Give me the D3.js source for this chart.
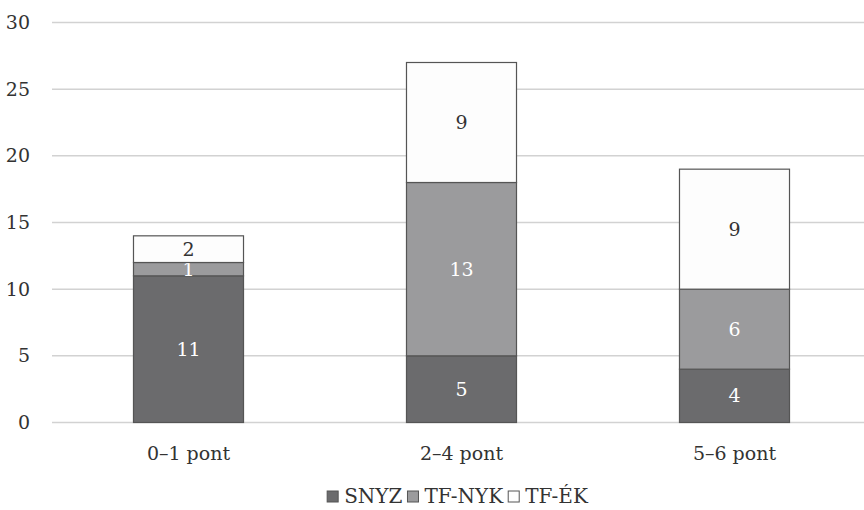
<!DOCTYPE html>
<html>
<head>
<meta charset="utf-8">
<script src="https://cdn.jsdelivr.net/npm/d3@7"></script>
<style>
  html, body { margin: 0; padding: 0; background: #fff; }
  svg { display: block; }
  svg text { font-family: "DejaVu Serif", "Liberation Serif", serif; }
</style>
</head>
<body>
<svg id="chart" width="864" height="510"></svg>
<script>
// Score groups and the three stacked series
const categories = ["0–1 pont", "2–4 pont", "5–6 pont"];
const seriesNames = ["SNYZ", "TF-NYK", "TF-ÉK"];
const snyz = [11, 5, 4];
const tfNyk = [1, 13, 6];
const tfEk = [2, 9, 9];
const yTicks = [0, 5, 10, 15, 20, 25, 30];

const colors = { "SNYZ": "#6b6b6d", "TF-NYK": "#9b9b9d", "TF-ÉK": "#fdfdfd" };
const labelColors = { "SNYZ": "#ffffff", "TF-NYK": "#ffffff", "TF-ÉK": "#333333" };

const rows = categories.map((c, i) => ({ cat: c, "SNYZ": snyz[i], "TF-NYK": tfNyk[i], "TF-ÉK": tfEk[i] }));
const stacked = d3.stack().keys(seriesNames)(rows);

const svg = d3.select("#chart");
const x = d3.scaleBand().domain(categories).range([52, 871]).paddingInner(0.597).paddingOuter(0.2985);
const y = d3.scaleLinear().domain([0, 30]).range([422.5, 22.5]);

// Horizontal gridlines
svg.append("g").selectAll("line").data(yTicks).join("line")
  .attr("x1", 52).attr("x2", 864)
  .attr("y1", d => y(d)).attr("y2", d => y(d))
  .attr("stroke", "#d2d2d2").attr("stroke-width", 1.5);

// Y axis tick labels
const yAxis = d3.axisLeft(y).tickValues(yTicks).tickSize(0).tickPadding(0);
const gy = svg.append("g").attr("transform", "translate(30,0)").call(yAxis);
gy.select(".domain").remove();
gy.attr("font-family", null).attr("font-size", null);
gy.selectAll("text").attr("font-size", 19).attr("fill", "#333");

// Stacked bars
const layers = svg.append("g").selectAll("g").data(stacked).join("g")
  .attr("fill", d => colors[d.key]);
layers.selectAll("rect").data(d => d.map(v => ({ key: d.key, v }))).join("rect")
  .attr("x", d => x(d.v.data.cat))
  .attr("width", x.bandwidth())
  .attr("y", d => y(d.v[1]))
  .attr("height", d => y(d.v[0]) - y(d.v[1]))
  .attr("stroke", "#555").attr("stroke-width", 1.2);

// Value labels in segment centres
layers.selectAll("text").data(d => d.map(v => ({ key: d.key, v }))).join("text")
  .attr("x", d => x(d.v.data.cat) + x.bandwidth() / 2)
  .attr("y", d => (y(d.v[0]) + y(d.v[1])) / 2)
  .attr("dy", "0.35em")
  .attr("text-anchor", "middle")
  .attr("font-size", 19)
  .attr("fill", d => labelColors[d.key])
  .text(d => d.v[1] - d.v[0]);

// Category axis labels
const xAxis = d3.axisBottom(x).tickSize(0).tickPadding(0);
const gx = svg.append("g").attr("transform", "translate(0,446)").call(xAxis);
gx.select(".domain").remove();
gx.attr("font-family", null).attr("font-size", null);
gx.selectAll("text").attr("font-size", 19).attr("fill", "#333");

// Legend: swatch + label items laid out in a row, centred under the plot
const lg = svg.append("g");
const items = lg.selectAll("g").data(seriesNames).join("g");
items.append("rect")
  .attr("y", 491).attr("width", 11).attr("height", 11)
  .attr("fill", d => colors[d]).attr("stroke", "#555").attr("stroke-width", 1);
items.append("text")
  .attr("x", 17).attr("y", 503)
  .attr("font-size", 20).attr("fill", "#333")
  .text(d => d);
let cursor = 0;
const offsets = [];
items.each(function () {
  offsets.push(cursor);
  const w = d3.select(this).select("text").node().getComputedTextLength();
  cursor += 17 + w + 5;
});
const total = cursor - 5;
const start = 457.5 - total / 2;
items.attr("transform", (d, i) => `translate(${start + offsets[i]},0)`);
</script>
</body>
</html>
